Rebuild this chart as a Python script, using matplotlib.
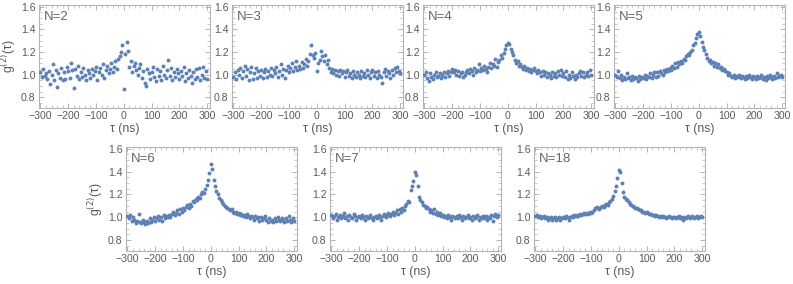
import numpy as np
import matplotlib
matplotlib.use("Agg")
import matplotlib.pyplot as plt
from matplotlib.ticker import MultipleLocator, FuncFormatter

plt.rcParams['font.family'] = ['Liberation Sans', 'DejaVu Sans']

# ---------------- data ----------------
tau = np.arange(-300, 301, 5)  # delay grid (ns)

g2_N2 = [1.02, 0.98, 1.05, 0.99, 1.01, 0.96, 1.03, 0.92, 1.00, 1.09,
         0.95, 1.04, 0.89, 1.01, 0.97, 1.06, 0.95, 1.02, 0.96, 1.07,
         1.03, 0.97, 1.10, 1.04, 0.88, 1.05, 0.99, 1.08, 0.96, 1.02,
         0.98, 1.06, 1.00, 0.95, 1.04, 1.01, 0.97, 1.05, 1.00, 1.03,
         1.07, 0.95, 1.02, 1.06, 1.00, 1.09, 0.97, 1.04, 1.08, 1.01,
         1.05, 1.10, 1.02, 1.07, 1.12, 1.05, 1.14, 1.16, 1.20, 1.26,
         0.87, 1.18, 1.29, 1.21, 1.07, 1.12, 1.02, 1.08, 1.10, 1.04,
         1.00, 1.06, 1.09, 0.97, 1.03, 0.93, 0.90, 1.05, 1.01, 0.96,
         1.02, 1.07, 0.98, 0.94, 1.05, 0.99, 1.03, 0.95, 1.08, 1.00,
         0.97, 1.04, 1.13, 0.99, 1.06, 0.95, 1.02, 0.98, 1.05, 1.01,
         0.96, 1.03, 0.99, 1.07, 0.94, 1.01, 0.97, 1.04, 0.99, 0.93,
         1.02, 0.96, 1.05, 0.98, 1.06, 0.95, 1.00, 1.07, 0.97, 1.03,
         0.96]

g2_N3 = [0.98, 1.02, 0.96, 1.04, 1.00, 1.06, 0.97, 1.03, 1.08, 0.99,
         1.05, 0.95, 1.02, 1.07, 0.96, 1.01, 1.06, 0.97, 1.03, 0.99,
         1.04, 0.97, 1.02, 1.05, 0.98, 1.03, 1.00, 1.06, 0.99, 1.04,
         1.01, 1.07, 0.98, 1.03, 1.09, 1.00, 1.05, 0.97, 1.04, 1.08,
         1.02, 1.06, 1.10, 1.03, 1.07, 1.12, 1.04, 1.08, 1.05, 1.11,
         1.06, 1.09, 1.14, 1.08, 1.12, 1.18, 1.26, 1.17, 1.15, 1.19,
         1.03, 1.10, 1.13, 1.21, 1.16, 1.12, 1.17, 1.09, 1.13, 1.06,
         1.02, 1.05, 1.01, 1.04, 1.00, 1.03, 0.99, 1.04, 1.01, 1.03,
         0.98, 1.02, 1.04, 0.99, 1.01, 0.97, 1.03, 1.00, 0.98, 1.02,
         1.00, 0.97, 1.03, 0.99, 1.01, 0.98, 1.04, 1.00, 0.97, 1.02,
         1.04, 0.99, 1.02, 0.97, 1.03, 1.00, 0.98, 0.93, 1.02, 1.05,
         0.99, 1.03, 1.01, 0.97, 1.04, 1.00, 1.06, 1.02, 1.07, 1.03,
         1.01]

g2_N4 = [1.00, 1.02, 0.97, 0.94, 1.01, 0.98, 0.96, 1.00, 1.02, 0.98,
         0.99, 1.01, 0.97, 1.00, 1.02, 0.98, 1.01, 1.03, 0.99, 1.02,
         1.05, 1.02, 1.04, 1.00, 1.03, 0.99, 1.01, 1.02, 0.98, 1.00,
         1.02, 1.04, 1.01, 1.05, 1.03, 1.00, 1.06, 1.02, 1.04, 1.09,
         1.03, 1.06, 1.04, 1.08, 1.05, 1.02, 1.07, 1.10, 1.06, 1.09,
         1.08, 1.14, 1.07, 1.11, 1.13, 1.17, 1.15, 1.19, 1.23, 1.26,
         1.28, 1.27, 1.23, 1.20, 1.17, 1.13, 1.10, 1.12, 1.08, 1.09,
         1.07, 1.05, 1.08, 1.04, 1.06, 1.03, 1.05, 1.02, 1.04, 1.06,
         1.03, 1.01, 1.04, 1.02, 0.99, 1.03, 1.00, 1.02, 0.98, 1.01,
         1.00, 0.97, 1.02, 0.99, 1.01, 0.98, 1.03, 1.00, 1.04, 0.99,
         1.01, 0.98, 1.03, 0.96, 1.00, 0.97, 1.02, 0.99, 0.96, 1.00,
         0.98, 1.01, 1.03, 0.99, 1.02, 0.98, 1.00, 1.02, 0.99, 1.04,
         1.00]

g2_N5 = [1.00, 0.98, 1.03, 0.97, 1.00, 0.95, 0.98, 0.96, 1.01, 0.97,
         0.98, 0.95, 0.99, 0.96, 0.98, 0.97, 0.94, 0.99, 0.96, 0.98,
         0.97, 1.00, 0.96, 0.99, 0.98, 1.01, 0.97, 1.00, 1.02, 0.98,
         1.02, 0.99, 1.03, 1.01, 1.00, 1.04, 1.02, 1.05, 1.03, 1.06,
         1.04, 1.08, 1.06, 1.10, 1.07, 1.11, 1.09, 1.12, 1.10, 1.14,
         1.13, 1.16, 1.18, 1.17, 1.20, 1.22, 1.26, 1.28, 1.32, 1.36,
         1.38, 1.34, 1.29, 1.24, 1.22, 1.18, 1.15, 1.12, 1.13, 1.10,
         1.11, 1.08, 1.10, 1.07, 1.09, 1.06, 1.07, 1.04, 1.05, 1.03,
         1.02, 1.00, 1.01, 0.99, 0.98, 1.00, 0.97, 0.99, 0.98, 1.00,
         0.97, 0.99, 0.98, 0.96, 0.99, 0.97, 1.00, 0.98, 0.96, 0.99,
         0.98, 0.96, 0.99, 0.97, 0.98, 1.00, 0.96, 0.98, 0.95, 0.99,
         0.97, 1.00, 0.98, 0.96, 0.99, 0.97, 1.01, 0.98, 0.99, 1.00,
         0.98]

g2_N6 = [1.01, 0.99, 1.02, 0.97, 1.00, 0.98, 0.95, 0.97, 1.03, 0.96,
         0.95, 0.98, 0.96, 0.94, 0.97, 0.95, 0.99, 0.96, 0.98, 1.00,
         0.97, 0.99, 1.01, 0.98, 1.00, 0.97, 1.02, 0.99, 1.01, 1.00,
         1.02, 1.00, 1.03, 1.05, 1.02, 1.04, 1.06, 1.03, 1.07, 1.05,
         1.08, 1.06, 1.09, 1.11, 1.08, 1.12, 1.10, 1.14, 1.13, 1.16,
         1.15, 1.18, 1.17, 1.20, 1.22, 1.21, 1.25, 1.28, 1.33, 1.39,
         1.47, 1.42, 1.33, 1.27, 1.23, 1.20, 1.17, 1.15, 1.13, 1.12,
         1.10, 1.09, 1.08, 1.07, 1.06, 1.07, 1.05, 1.04, 1.05, 1.03,
         1.04, 1.02, 1.03, 1.01, 1.02, 1.00, 1.03, 1.01, 0.99, 1.01,
         1.00, 0.98, 1.01, 0.99, 1.00, 0.97, 1.00, 0.98, 0.99, 1.01,
         0.98, 0.96, 0.99, 0.97, 0.98, 0.96, 0.99, 0.97, 1.00, 0.98,
         0.97, 0.99, 0.98, 0.96, 0.99, 0.97, 1.01, 0.98, 0.96, 0.99,
         0.97]

g2_N7 = [1.02, 0.99, 1.01, 1.03, 0.98, 1.00, 1.02, 0.99, 1.01, 1.04,
         0.99, 1.01, 0.98, 1.02, 1.00, 0.99, 1.03, 1.01, 0.98, 1.00,
         1.01, 0.99, 1.02, 1.00, 0.98, 1.01, 0.99, 1.00, 1.02, 0.99,
         0.98, 1.00, 1.01, 0.99, 1.02, 1.00, 0.98, 1.01, 1.03, 1.00,
         1.02, 1.04, 1.01, 1.03, 1.05, 1.02, 1.04, 1.06, 1.03, 1.07,
         1.05, 1.08, 1.06, 1.10, 1.12, 1.14, 1.13, 1.24, 1.27, 1.32,
         1.40, 1.37, 1.27, 1.18, 1.15, 1.13, 1.11, 1.10, 1.08, 1.09,
         1.07, 1.05, 1.06, 1.04, 1.07, 1.03, 1.05, 1.02, 1.04, 1.01,
         1.02, 1.00, 1.01, 0.99, 1.02, 1.00, 0.98, 1.01, 1.00, 0.99,
         1.01, 0.99, 1.02, 1.00, 0.98, 1.01, 0.99, 1.00, 1.02, 0.99,
         1.00, 0.98, 1.01, 0.99, 1.00, 1.02, 0.98, 1.00, 0.99, 1.01,
         0.99, 1.01, 0.98, 1.00, 0.99, 1.02, 0.97, 1.01, 1.03, 1.00,
         1.02]

g2_N18 = [1.01, 1.02, 1.00, 1.01, 0.99, 1.00, 1.01, 0.99, 1.00, 0.98,
          0.99, 1.00, 0.98, 0.99, 1.00, 0.98, 0.99, 1.00, 0.98, 0.99,
          1.00, 0.99, 1.01, 1.00, 0.98, 1.00, 1.01, 1.00, 1.02, 1.01,
          1.02, 1.01, 1.03, 1.02, 1.03, 1.04, 1.03, 1.04, 1.03, 1.05,
          1.04, 1.05, 1.06, 1.08, 1.09, 1.08, 1.07, 1.09, 1.10, 1.09,
          1.11, 1.12, 1.11, 1.13, 1.14, 1.16, 1.19, 1.23, 1.27, 1.34,
          1.41, 1.40, 1.30, 1.22, 1.18, 1.16, 1.15, 1.13, 1.12, 1.11,
          1.10, 1.09, 1.08, 1.08, 1.07, 1.06, 1.06, 1.05, 1.05, 1.04,
          1.05, 1.04, 1.03, 1.03, 1.02, 1.02, 1.01, 1.02, 1.01, 1.00,
          1.01, 1.00, 1.01, 1.00, 0.99, 1.00, 1.01, 1.00, 0.99, 1.00,
          1.00, 0.99, 1.00, 1.01, 0.99, 1.00, 0.98, 1.00, 0.99, 1.00,
          1.01, 0.99, 1.00, 1.01, 0.99, 1.00, 1.01, 0.99, 1.00, 1.01,
          1.00]

panel_labels = ["N=2", "N=3", "N=4", "N=5", "N=6", "N=7", "N=18"]
series = [g2_N2, g2_N3, g2_N4, g2_N5, g2_N6, g2_N7, g2_N18]

# ---------------- layout ----------------
W, H = 793, 284
fig = plt.figure(figsize=(W / 100, H / 100), dpi=100)

top_lefts = [39, 232, 423, 614]
bot_lefts = [126, 330, 534]
pw = 171
top_y0, top_y1 = 5, 108
bot_y0, bot_y1 = 147, 251

rects = []
for l in top_lefts:
    rects.append([l / W, 1 - top_y1 / H, pw / W, (top_y1 - top_y0) / H])
for l in bot_lefts:
    rects.append([l / W, 1 - bot_y1 / H, pw / W, (bot_y1 - bot_y0) / H])

pt_color = "#5E81B5"
frame_color = "#b4b4b4"
text_color = "#5a5a5a"

fmt_x = FuncFormatter(lambda v, p: f"{int(v)}".replace("-", "\u2212"))
fmt_y = FuncFormatter(lambda v, p: f"{v:.1f}")

for i, (rect, lab, y) in enumerate(zip(rects, panel_labels, series)):
    ax = fig.add_axes(rect)
    ax.scatter(tau, y, s=8, color=pt_color, linewidths=0, zorder=3)
    ax.set_xlim(-305, 310)
    ax.set_ylim(0.705, 1.615)
    ax.xaxis.set_major_locator(MultipleLocator(100))
    ax.xaxis.set_minor_locator(MultipleLocator(20))
    ax.yaxis.set_major_locator(MultipleLocator(0.2))
    ax.yaxis.set_minor_locator(MultipleLocator(0.05))
    ax.xaxis.set_major_formatter(fmt_x)
    ax.yaxis.set_major_formatter(fmt_y)
    for sp in ax.spines.values():
        sp.set_color(frame_color)
        sp.set_linewidth(0.8)
    ax.tick_params(which="both", direction="in", top=True, right=True,
                   color=frame_color, labelcolor=text_color, labelsize=7.6, pad=2.5)
    ax.tick_params(which="major", length=3.5, width=0.7)
    ax.tick_params(which="minor", length=2, width=0.5)
    ax.set_xlabel("\u03c4 (ns)", fontsize=8.8, color=text_color, labelpad=1)
    if i in (0, 4):
        ax.set_ylabel("g$^{(2)}$(\u03c4)", fontsize=8.8, color=text_color, labelpad=2)
    ax.text(0.03, 0.88, lab, transform=ax.transAxes, fontsize=9.5,
            color="#666666", ha="left", va="center")

fig.savefig("out.png", dpi=100)
